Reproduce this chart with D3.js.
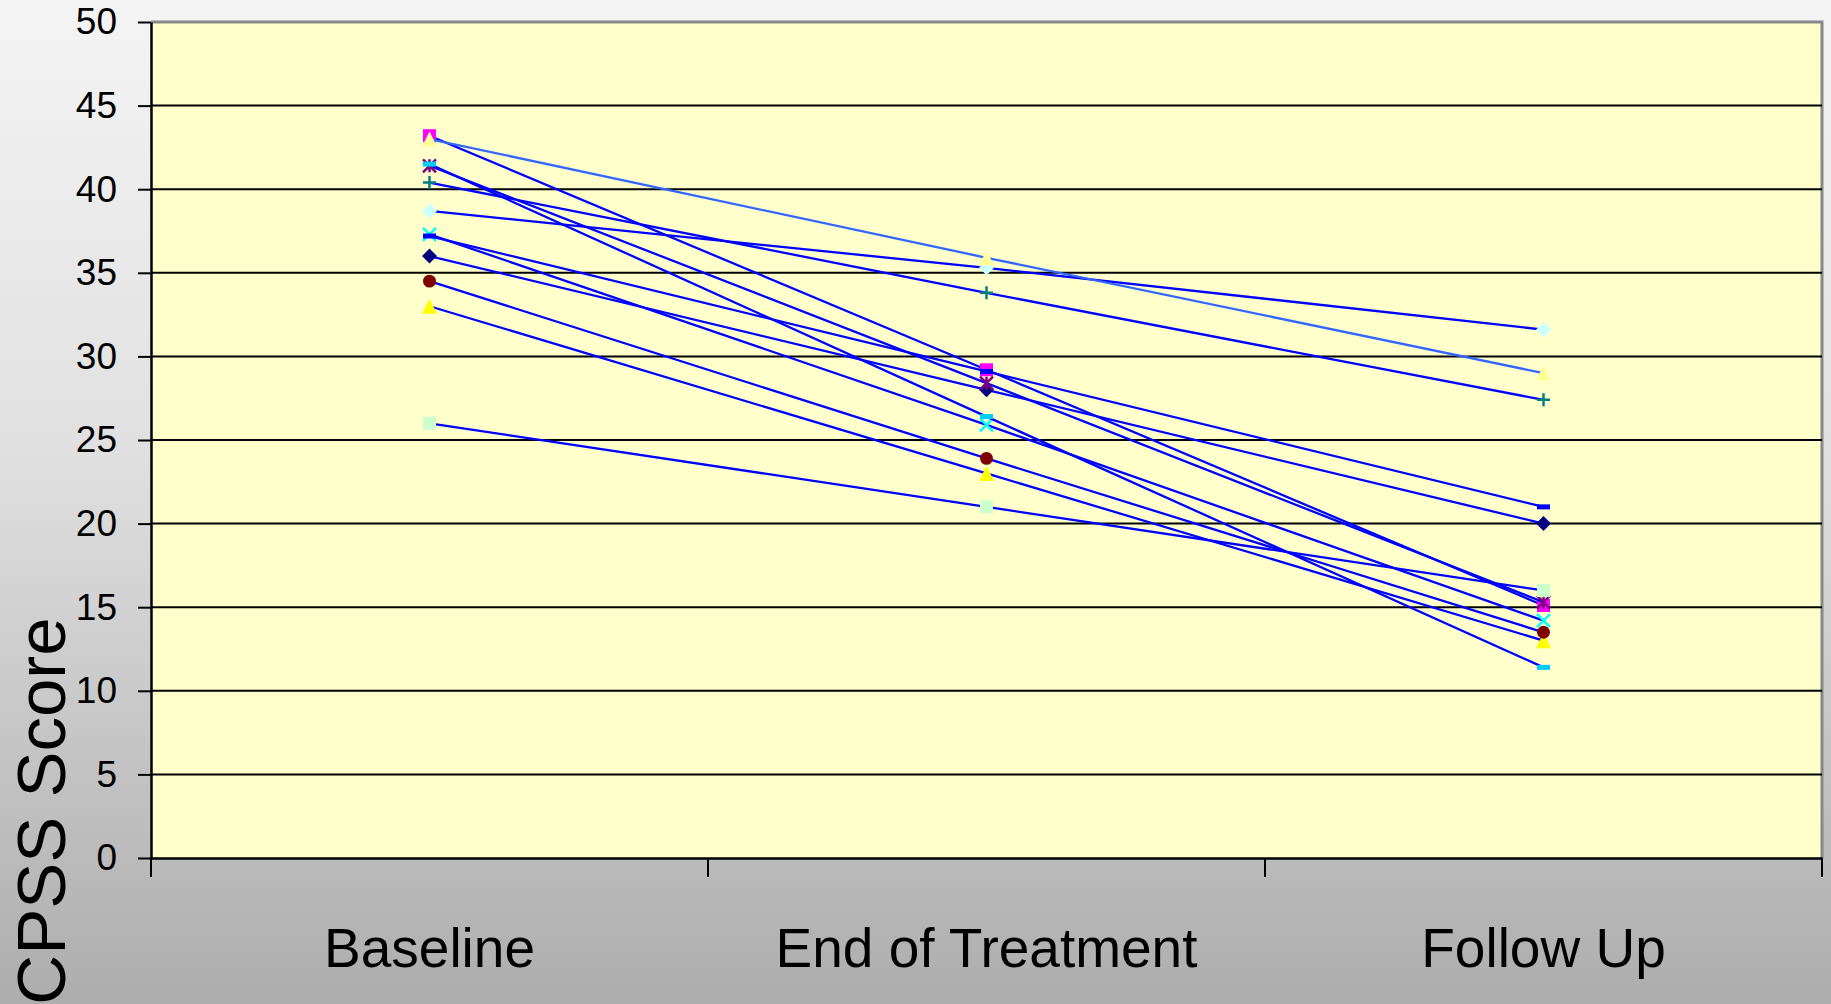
<!DOCTYPE html>
<html><head><meta charset="utf-8">
<script src="https://cdn.jsdelivr.net/npm/d3@7"></script>
<style>
html,body{margin:0;padding:0;overflow:hidden;}
svg{display:block;font-family:"Liberation Sans",Arial,sans-serif;}
</style></head>
<body>
<svg id="chart" width="1831" height="1004"></svg>
<script>
// ---- data ----
const categories = ["Baseline", "End of Treatment", "Follow Up"];
const yTicks = [0, 5, 10, 15, 20, 25, 30, 35, 40, 45, 50];
const yTitle = "CPSS Score";

const p1  = [36.0, 28.0, 20.0];   // navy diamond
const p2  = [43.2, 29.2, 15.1];   // magenta square
const p3  = [33.0, 23.0, 13.0];   // yellow triangle
const p4  = [37.3, 25.9, 14.2];   // cyan x
const p5  = [41.4, 28.4, 15.3];   // purple star
const p6  = [34.5, 23.9, 13.5];   // maroon circle
const p7  = [40.4, 33.8, 27.4];   // teal plus
const p8  = [37.2, 29.1, 21.0];   // blue dash
const p9  = [38.7, 35.3, 31.6];   // light cyan diamond
const p10 = [26.0, 21.0, 16.0];   // light green square
const p11 = [43.0, 35.9, 29.0];   // light yellow triangle
const p12 = [41.5, 26.4, 11.4];   // sky blue dash

const seriesValues = [p1, p2, p3, p4, p5, p6, p7, p8, p9, p10, p11, p12];
const markerTypes = ["diamond","square","triangle","x","star","circle","plus","dash","diamond","square","triangle","dash"];
const markerColors = ["#000080","#FF00FF","#FFFF00","#00FFFF","#800080","#800000","#008080","#0000FF","#CCFFFF","#CCFFCC","#FFFF99","#00CCFF"];
const lineColors = ["#0000FF","#0000FF","#0000FF","#0000FF","#0000FF","#0000FF","#0000FF","#0000FF","#0000FF","#0000FF","#3366FF","#0000FF"];

// ---- layout ----
const W = 1831, H = 1004;
const m = {left: 151, right: 9, top: 22, bottom: 146};
const svg = d3.select("#chart");

const defs = svg.append("defs");
const bg = defs.append("linearGradient").attr("id","bg").attr("x1",0).attr("y1",0).attr("x2",0).attr("y2",1);
bg.append("stop").attr("offset","0%").attr("stop-color","#f4f4f4");
bg.append("stop").attr("offset","45%").attr("stop-color","#e0e0e0");
bg.append("stop").attr("offset","100%").attr("stop-color","#adadad");
svg.append("rect").attr("width",W).attr("height",H).attr("fill","url(#bg)");

const x = d3.scaleBand().domain(categories).range([m.left, W - m.right]);
const y = d3.scaleLinear().domain([0, 50]).range([H - m.bottom, m.top]);
const cx = c => x(c) + x.bandwidth() / 2;

// plot area
svg.append("rect")
  .attr("x", m.left).attr("y", m.top)
  .attr("width", W - m.left - m.right).attr("height", y(0) - m.top)
  .attr("fill", "#FFFFCC");

// plot border top/right (gray)
svg.append("path")
  .attr("d", `M${m.left},${m.top}H${W - m.right}V${y(0)}`)
  .attr("fill","none").attr("stroke","#888").attr("stroke-width",3);

// gridlines
svg.append("g").selectAll("line").data(yTicks.filter(t => t > 0 && t < 50)).join("line")
  .attr("x1", m.left).attr("x2", W - m.right)
  .attr("y1", d => y(d)).attr("y2", d => y(d))
  .attr("stroke", "#000").attr("stroke-width", 2);

// y axis
const yAxis = svg.append("g").attr("transform", `translate(${m.left},0)`)
  .call(d3.axisLeft(y).tickValues(yTicks).tickSize(13).tickSizeOuter(0).tickPadding(21));
yAxis.select(".domain").attr("stroke","#000").attr("stroke-width",2.5);
yAxis.selectAll(".tick line").attr("stroke","#000").attr("stroke-width",2);
yAxis.selectAll("text").attr("font-size", 37).attr("fill","#000")
  .attr("font-family", "'Liberation Sans', Arial, sans-serif");

// x axis (labels)
const xAxis = svg.append("g").attr("transform", `translate(0,${y(0)})`)
  .call(d3.axisBottom(x).tickSize(0).tickPadding(70));
xAxis.select(".domain").attr("stroke","#000").attr("stroke-width",2.5);
xAxis.selectAll("text").attr("font-size", 55).attr("fill","#000")
  .attr("font-family", "'Liberation Sans', Arial, sans-serif");
// x tick marks at category boundaries
const bounds = categories.map(c => x(c)).concat([x.range()[1]]);
svg.append("g").selectAll("line").data(bounds).join("line")
  .attr("x1", d => d).attr("x2", d => d)
  .attr("y1", y(0)).attr("y2", y(0) + 19)
  .attr("stroke","#000").attr("stroke-width",2);

// y title
svg.append("text")
  .attr("transform", "translate(65,811) rotate(-90)")
  .attr("text-anchor","middle")
  .attr("font-size", 69)
  .attr("font-family", "'Liberation Sans', Arial, sans-serif")
  .attr("fill","#000")
  .text(yTitle);

// ---- series ----
const line = d3.line().x((d, i) => cx(categories[i])).y(d => y(d));
function markerPath(type) {
  const s = 6.5;
  switch (type) {
    case "diamond": return `M0,${-s-1}L${s+1},0L0,${s+1}L${-s-1},0Z`;
    case "square": return `M${-s},${-s}H${s}V${s}H${-s}Z`;
    case "triangle": return `M0,${-s-1}L${s+1},${s+1}L${-s-1},${s+1}Z`;
    case "x": return `M${-s},${-s}L${s},${s}M${-s},${s}L${s},${-s}`;
    case "star": return `M${-s},${-s}L${s},${s}M${-s},${s}L${s},${-s}M0,${-s}V${s}`;
    case "plus": return `M${-s},0H${s}M0,${-s}V${s}`;
    case "dash": return `M${-s},-2.5H${s}V2.5H${-s}Z`;
  }
}
const stroked = new Set(["x","star","plus"]);

const gSeries = svg.append("g");
seriesValues.forEach((vals, si) => {
  const g = gSeries.append("g");
  g.append("path").attr("d", line(vals)).attr("fill","none")
    .attr("stroke", lineColors[si]).attr("stroke-width", 2.3);
  const t = markerTypes[si];
  g.selectAll("path.mk").data(vals).join("path").attr("class","mk")
    .attr("transform", (d, i) => `translate(${cx(categories[i])},${y(d)})`)
    .attr("d", t === "circle" ? d3.symbol(d3.symbolCircle, 130)() : markerPath(t))
    .attr("fill", stroked.has(t) ? "none" : markerColors[si])
    .attr("stroke", stroked.has(t) ? markerColors[si] : "none")
    .attr("stroke-width", 2.5);
});
</script>
</body></html>
